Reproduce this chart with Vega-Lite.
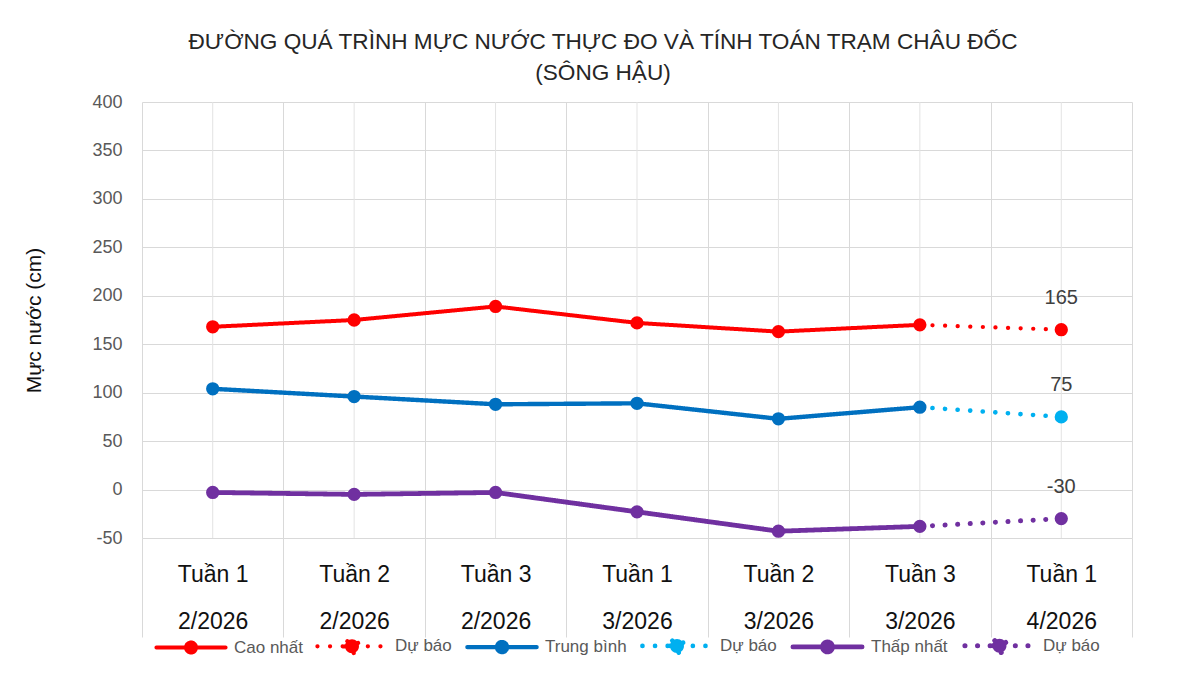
{
  "$schema": "https://vega.github.io/schema/vega-lite/v6.json",
  "autosize": "none",
  "width": 990,
  "height": 436,
  "padding": {"left": 142, "top": 102, "right": 68, "bottom": 146},
  "background": "white",
  "config": {
    "font": "Liberation Sans",
    "view": {"stroke": null}
  },
  "title": {
    "text": ["ĐƯỜNG QUÁ TRÌNH MỰC NƯỚC THỰC ĐO VÀ TÍNH TOÁN TRẠM CHÂU ĐỐC", "(SÔNG HẬU)"],
    "anchor": "middle",
    "font": "Liberation Sans",
    "fontSize": 22.6,
    "fontWeight": "normal",
    "color": "#262626",
    "lineHeight": 31,
    "offset": 8,
    "dx": -34
  },
  "datasets": {
    "levels": [
      {"week": "Tuần 1|2/2026", "s": "Cao nhất", "value": 168},
      {"week": "Tuần 2|2/2026", "s": "Cao nhất", "value": 175},
      {"week": "Tuần 3|2/2026", "s": "Cao nhất", "value": 189},
      {"week": "Tuần 1|3/2026", "s": "Cao nhất", "value": 172},
      {"week": "Tuần 2|3/2026", "s": "Cao nhất", "value": 163},
      {"week": "Tuần 3|3/2026", "s": "Cao nhất", "value": 170},
      {"week": "Tuần 3|3/2026", "s": "Dự báo (cao)", "value": 170},
      {"week": "Tuần 1|4/2026", "s": "Dự báo (cao)", "value": 165, "label": "165"},
      {"week": "Tuần 1|2/2026", "s": "Trung bình", "value": 104},
      {"week": "Tuần 2|2/2026", "s": "Trung bình", "value": 96},
      {"week": "Tuần 3|2/2026", "s": "Trung bình", "value": 88},
      {"week": "Tuần 1|3/2026", "s": "Trung bình", "value": 89},
      {"week": "Tuần 2|3/2026", "s": "Trung bình", "value": 73},
      {"week": "Tuần 3|3/2026", "s": "Trung bình", "value": 85},
      {"week": "Tuần 3|3/2026", "s": "Dự báo (tb)", "value": 85},
      {"week": "Tuần 1|4/2026", "s": "Dự báo (tb)", "value": 75, "label": "75"},
      {"week": "Tuần 1|2/2026", "s": "Thấp nhất", "value": -3},
      {"week": "Tuần 2|2/2026", "s": "Thấp nhất", "value": -5},
      {"week": "Tuần 3|2/2026", "s": "Thấp nhất", "value": -3},
      {"week": "Tuần 1|3/2026", "s": "Thấp nhất", "value": -23},
      {"week": "Tuần 2|3/2026", "s": "Thấp nhất", "value": -43},
      {"week": "Tuần 3|3/2026", "s": "Thấp nhất", "value": -38},
      {"week": "Tuần 3|3/2026", "s": "Dự báo (thấp)", "value": -38},
      {"week": "Tuần 1|4/2026", "s": "Dự báo (thấp)", "value": -30, "label": "-30"}
    ],
    "weeks": [
      {"week": "Tuần 1|2/2026"}, {"week": "Tuần 2|2/2026"}, {"week": "Tuần 3|2/2026"},
      {"week": "Tuần 1|3/2026"}, {"week": "Tuần 2|3/2026"}, {"week": "Tuần 3|3/2026"},
      {"week": "Tuần 1|4/2026"}
    ]
  },
  "layer": [
    {
      "data": {"name": "weeks"},
      "mark": {"type": "rule", "color": "#e3e3e3", "strokeWidth": 1},
      "encoding": {
        "x": {"field": "week", "type": "nominal", "sort": null,
              "scale": {"type": "band", "paddingInner": 0, "paddingOuter": 0,
                        "domain": ["Tuần 1|2/2026", "Tuần 2|2/2026", "Tuần 3|2/2026", "Tuần 1|3/2026", "Tuần 2|3/2026", "Tuần 3|3/2026", "Tuần 1|4/2026"]},
              "axis": {
                "title": null,
                "labelExpr": "split(datum.label, '|')",
                "labelAngle": 0,
                "labelFont": "Liberation Sans",
                "labelFontSize": 23,
                "labelColor": "#111111",
                "labelLineHeight": 47,
                "labelPadding": -74,
                "tickBand": "extent",
                "ticks": true,
                "tickSize": 99,
                "tickColor": "#d9d9d9",
                "tickWidth": 1,
                "grid": true,
                "gridColor": "#d9d9d9",
                "gridWidth": 1,
                "domain": false
              }}
      }
    },
    {
      "data": {"name": "levels"},
      "mark": {"type": "line", "strokeCap": "round", "strokeJoin": "round"},
      "encoding": {
        "x": {"field": "week", "type": "nominal", "sort": null},
        "y": {"field": "value", "type": "quantitative",
              "scale": {"domain": [-50, 400], "nice": false, "zero": false},
              "axis": {
                "title": "Mực nước (cm)",
                "titleFont": "Liberation Sans",
                "titleFontSize": 21,
                "titleFontWeight": "normal",
                "titleColor": "#111111",
                "titlePadding": 47,
                "values": [-50, 0, 50, 100, 150, 200, 250, 300, 350, 400],
                "labelExpr": "'' + datum.value",
                "labelFont": "Liberation Sans",
                "labelFontSize": 18,
                "labelColor": "#595959",
                "labelPadding": 20,
                "ticks": false,
                "domain": false,
                "grid": true,
                "gridColor": "#d9d9d9",
                "gridWidth": 1
              }},
        "color": {"field": "s", "type": "nominal",
                  "scale": {"domain": ["Cao nhất", "Dự báo (cao)", "Trung bình", "Dự báo (tb)", "Thấp nhất", "Dự báo (thấp)"],
                            "range": ["#FF0000", "#FF0000", "#0070C0", "#00B0F0", "#7030A0", "#7030A0"]},
                  "legend": {
                    "orient": "none",
                    "legendX": 40,
                    "legendY": 534,
                    "direction": "horizontal",
                    "title": null,
                    "padding": 0,
                    "symbolType": "M-5.2,0L5.2,0M-0.75,0A0.75,0.75 0 1,0 0.75,0A0.75,0.75 0 1,0 -0.75,0",
                    "symbolSize": 100,
                    "symbolStrokeWidth": 5,
                    "labelFont": "Liberation Sans",
                    "labelFontSize": 17,
                    "labelColor": "#595959",
                    "labelOffset": 34,
                    "labelLimit": 300,
                    "columnPadding": 6,
                    "labelExpr": "(datum.label == 'Cao nhất' || datum.label == 'Trung bình' || datum.label == 'Thấp nhất') ? datum.label : 'Dự báo'",
                    "encode": {"symbols": {"update": {
                      "size": {"value": 100},
                      "shape": {"signal": "(datum.value == 'Cao nhất' || datum.value == 'Trung bình' || datum.value == 'Thấp nhất') ? 'M-5.2,0L5.2,0M-0.75,0A0.75,0.75 0 1,0 0.75,0A0.75,0.75 0 1,0 -0.75,0' : 'M-5.2,0L5.2,0M-1.05,0A1.05,1.05 0 1,0 1.05,0A1.05,1.05 0 1,0 -1.05,0'"},
                      "fill": {"scale": "color", "field": "value"},
                      "stroke": {"scale": "color", "field": "value"},
                      "strokeWidth": {"signal": "datum.value == 'Cao nhất' ? 4 : 5"},
                      "strokeDash": {"signal": "(datum.value == 'Cao nhất' || datum.value == 'Trung bình' || datum.value == 'Thấp nhất') ? [1, 0] : [0.1, 11]"},
                      "strokeCap": {"value": "round"},
                      "opacity": {"value": 1},
                      "fillOpacity": {"value": 1},
                      "strokeOpacity": {"value": 1}
                    }}}
                  }},
        "strokeWidth": {"field": "s", "type": "nominal", "legend": null,
                        "scale": {"domain": ["Cao nhất", "Dự báo (cao)", "Trung bình", "Dự báo (tb)", "Thấp nhất", "Dự báo (thấp)"],
                                  "range": [4, 5, 6, 5, 6, 5]}},
        "strokeDash": {"field": "s", "type": "nominal", "legend": null,
                       "scale": {"domain": ["Cao nhất", "Dự báo (cao)", "Trung bình", "Dự báo (tb)", "Thấp nhất", "Dự báo (thấp)"],
                                 "range": [[1, 0], [0.1, 12.5], [1, 0], [0.1, 12.5], [1, 0], [0.1, 12.5]]}}
      }
    },
    {
      "data": {"name": "levels"},
      "transform": [{"filter": "datum.s == 'Cao nhất' || datum.s == 'Trung bình' || datum.s == 'Thấp nhất' || datum.week == 'Tuần 1|4/2026'"}],
      "mark": {"type": "point", "filled": true, "opacity": 1, "shape": "circle"},
      "encoding": {
        "x": {"field": "week", "type": "nominal", "sort": null},
        "y": {"field": "value", "type": "quantitative"},
        "color": {"field": "s", "type": "nominal"},
        "size": {"field": "s", "type": "nominal", "legend": null,
                 "scale": {"domain": ["Cao nhất", "Dự báo (cao)", "Trung bình", "Dự báo (tb)", "Thấp nhất", "Dự báo (thấp)"],
                           "range": [177, 177, 314, 133, 314, 200]}}
      }
    },
    {
      "data": {"name": "levels"},
      "transform": [{"filter": "isValid(datum.label)"}],
      "mark": {"type": "text", "dy": -32, "fontSize": 20, "color": "#404040", "font": "Liberation Sans", "baseline": "middle", "align": "center"},
      "encoding": {
        "x": {"field": "week", "type": "nominal", "sort": null},
        "y": {"field": "value", "type": "quantitative"},
        "text": {"field": "label", "type": "nominal"}
      }
    }
  ]
}
